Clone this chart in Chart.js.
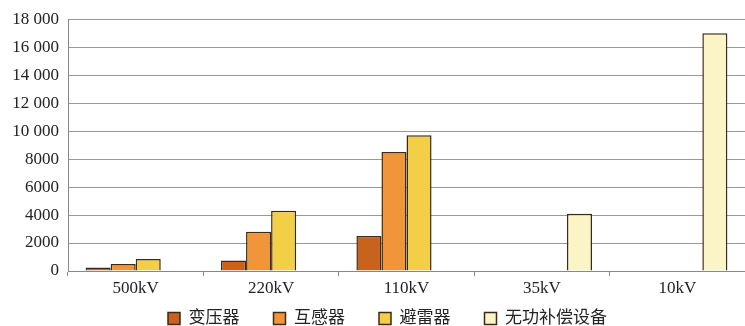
<!DOCTYPE html>
<html>
<head>
<meta charset="utf-8">
<script src="https://cdn.jsdelivr.net/npm/chart.js@4/dist/chart.umd.min.js"></script>
<style>
  html, body { margin:0; padding:0; background:#fff; }
  #wrap { width:745px; height:326px; }
</style>
</head>
<body>
<div id="wrap"><canvas id="chart"></canvas></div>
<script>
// categories and series
const categories = ['500kV', '220kV', '110kV', '35kV', '10kV'];
const seriesNames = ['变压器', '互感器', '避雷器', '无功补偿设备'];
const transformer = [250, 750, 2500, null, null];
const instrumentTransformer = [500, 2800, 8500, null, null];
const arrester = [850, 4300, 9700, null, null];
const reactiveComp = [null, null, null, 4100, 17000];
const yTicks = [0, 2000, 4000, 6000, 8000, 10000, 12000, 14000, 16000, 18000];

const fills = ['#c8621c', '#f0953a', '#f3cf48', '#faf4c6'];
const edge = '#3b2a16';
const fontFam = '"Liberation Serif", "Noto Sans CJK SC", serif';

const values = [transformer, instrumentTransformer, arrester, reactiveComp];

// nudge the legend a bit right and down, like the original,
// and let the x labels spill below their tight box
const legendNudge = {
  id: 'legendNudge',
  afterLayout(chart) {
    const lg = chart.legend;
    if (lg) {
      lg.left += 15; lg.right += 15;
      lg.top += 11; lg.bottom += 11;
    }
    chart.scales.x.bottom += 22;
  }
};

const ctx = document.getElementById('chart').getContext('2d');
new Chart(ctx, {
  type: 'bar',
  data: {
    labels: categories,
    datasets: seriesNames.map((name, i) => ({
      label: name,
      data: values[i],
      backgroundColor: fills[i],
      borderColor: edge,
      borderWidth: 1.5,
      barPercentage: 1.0,
      categoryPercentage: 0.74
    }))
  },
  options: {
    responsive: true,
    maintainAspectRatio: false,
    animation: false,
    layout: { padding: { top: 15, right: 0, left: 0, bottom: 0 } },
    plugins: {
      tooltip: { enabled: false },
      legend: {
        position: 'bottom',
        labels: {
          font: { family: fontFam, size: 17 },
          color: '#222',
          boxWidth: 12,
          boxHeight: 12,
          padding: 17,
          generateLabels: chart => {
            const items = Chart.defaults.plugins.legend.labels.generateLabels(chart);
            items.forEach((it, i) => { if (i < items.length - 1) it.text += '\u3000'; });
            return items;
          }
        }
      }
    },
    scales: {
      x: {
        grid: { display: true, drawOnChartArea: false, offset: true, tickLength: 5, color: '#888' },
        border: { color: '#888', width: 1 },
        ticks: {
          font: { family: fontFam, size: 17 },
          color: '#222',
          padding: 2,
          maxRotation: 0,
          minRotation: 0,
          autoSkip: false
        },
        afterFit: s => { s.height = 11; }
      },
      y: {
        min: 0,
        max: 18000,
        afterBuildTicks: s => { s.ticks = yTicks.map(v => ({ value: v })); },
        grid: { color: '#999', lineWidth: 1, drawTicks: false },
        border: { color: '#888', width: 1 },
        ticks: {
          font: { family: fontFam, size: 17 },
          color: '#222',
          padding: 9,
          callback: v => v >= 10000 ? String(v).replace(/(\d+)(\d{3})$/, '$1 $2') : String(v)
        },
        afterFit: s => { s.width = 68; }
      }
    }
  },
  plugins: [legendNudge]
});
</script>
</body>
</html>
